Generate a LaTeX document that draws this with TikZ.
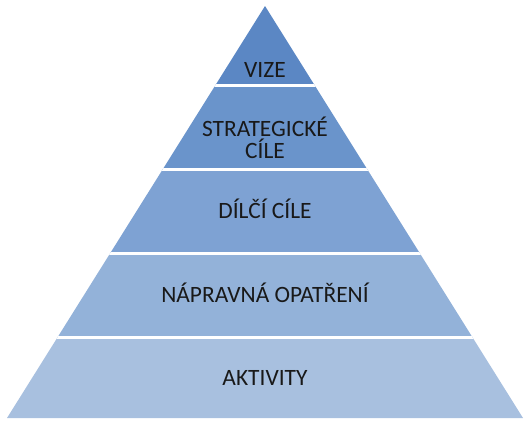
\documentclass[tikz,border=0pt]{standalone}
\usepackage{fontspec}
\setmainfont{Carlito}
\usetikzlibrary{calc}
\definecolor{bandA}{HTML}{5B87C4}
\definecolor{bandB}{HTML}{6A94CB}
\definecolor{bandC}{HTML}{7EA2D3}
\definecolor{bandD}{HTML}{93B2D9}
\definecolor{bandE}{HTML}{A8C0DF}
\tikzset{
	label text/.style={font=\fontsize{23.5}{21.5}\selectfont, text=black!90, align=center, inner sep=0pt},
	gap line/.style={white, line width=3bp}
}
\begin{document}
\begin{tikzpicture}[x=1bp, y=-1bp]
	\useasboundingbox (0,0) rectangle (530,424);
	\coordinate (T) at (265,6);
	\coordinate (L) at (7,418);
	\coordinate (R) at (523,418);
	\begin{scope}
		\clip (T) -- (L) -- (R) -- cycle;
		\fill[bandA] (0,0) rectangle (530,85.5);
		\fill[bandB] (0,85.5) rectangle (530,169.5);
		\fill[bandC] (0,169.5) rectangle (530,253.5);
		\fill[bandD] (0,253.5) rectangle (530,337.5);
		\fill[bandE] (0,337.5) rectangle (530,424);
		\foreach \y in {85.5, 169.5, 253.5, 337.5}
			\draw[gap line] (0,\y) -- (530,\y);
	\end{scope}
	\node (vize) at (265,77) [label text, anchor=base] {VIZE};
	\node (strat) at (265,158) [label text, anchor=base] {STRATEGICKÉ\\CÍLE};
	\node (dilci) at (265,218) [label text, anchor=base] {DÍLČÍ CÍLE};
	\node (naprav) at (265,302) [label text, anchor=base] {NÁPRAVNÁ OPATŘENÍ};
	\node (aktiv) at (265,385) [label text, anchor=base] {AKTIVITY};
\end{tikzpicture}
\end{document}
